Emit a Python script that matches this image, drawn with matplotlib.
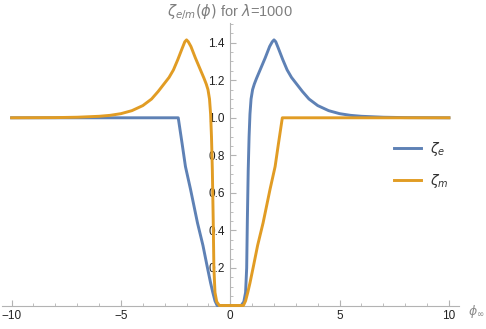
import matplotlib
matplotlib.use("Agg")
import matplotlib.pyplot as plt
from matplotlib.ticker import MultipleLocator, FixedLocator

# values
phi_e = [-10, -2.38, -2.2, -2.05, -1.82, -1.5, -1.25, -1.06, -0.9, -0.8, -0.7, -0.6,
         0.5, 0.62, 0.7, 0.75, 0.78, 0.82, 0.86, 0.9, 0.95, 1.02, 1.1, 1.2, 1.4, 1.6,
         1.8, 1.92, 2.0, 2.08, 2.2, 2.4, 2.6, 2.8, 3.0, 3.3, 3.6, 4.0, 4.5, 5.0, 5.5,
         6.0, 7.0, 8.0, 10]
zeta_e = [1.0, 1.0, 0.86, 0.74, 0.62, 0.44, 0.32, 0.21, 0.12, 0.07, 0.025, 0.0,
          0.0, 0.02, 0.07, 0.2, 0.45, 0.72, 0.9, 1.02, 1.1, 1.15, 1.18, 1.21, 1.265, 1.32,
          1.38, 1.405, 1.415, 1.405, 1.37, 1.31, 1.255, 1.215, 1.185, 1.14, 1.1, 1.065,
          1.038, 1.022, 1.013, 1.008, 1.003, 1.001, 1.0]

phi_m = [-10, -8, -7, -6, -5.5, -5, -4.5, -4, -3.6, -3.3, -3.0, -2.8, -2.6, -2.4,
         -2.2, -2.08, -2.0, -1.92, -1.8, -1.6, -1.4, -1.2, -1.1, -1.02, -0.95, -0.9,
         -0.86, -0.82, -0.78, -0.75, -0.7, -0.62, -0.5, 0.6, 0.7, 0.8, 0.9, 1.06,
         1.25, 1.5, 1.82, 2.05, 2.2, 2.38, 10]
zeta_m = [1.0, 1.001, 1.003, 1.008, 1.013, 1.022, 1.038, 1.065, 1.1, 1.14, 1.185,
          1.215, 1.255, 1.31, 1.37, 1.405, 1.415, 1.405, 1.38, 1.32, 1.265, 1.21, 1.18,
          1.15, 1.1, 1.02, 0.9, 0.72, 0.45, 0.2, 0.07, 0.02, 0.0, 0.0, 0.025, 0.07,
          0.12, 0.21, 0.32, 0.44, 0.62, 0.74, 0.86, 1.0, 1.0]

x_major = [-10, -5, 0, 5, 10]
y_major = [0.2, 0.4, 0.6, 0.8, 1.0, 1.2, 1.4]
y_labels = ["0.2", "0.4", "0.6", "0.8", "1.0", "1.2", "1.4"]

blue = "#5E81B5"
orange = "#E19C24"
axcol = "#b3b3b3"

plt.rcParams["font.family"] = ["Liberation Sans", "DejaVu Sans"]

fig = plt.figure(figsize=(4.86, 3.29), dpi=100)
ax = fig.add_axes([2/486, 1 - 305.5/329, 457/486, (305.5 - 23)/329])

ax.plot(phi_e, zeta_e, color=blue, lw=2.1, clip_on=False, label=r"$\zeta_e$", zorder=3)
ax.plot(phi_m, zeta_m, color=orange, lw=2.1, clip_on=False, label=r"$\zeta_m$", zorder=3)

ax.set_xlim(-10.44, 10.46)
ax.set_ylim(0, 1.505)

for s in ["top", "right"]:
    ax.spines[s].set_visible(False)
ax.spines["left"].set_position(("data", 0))
ax.spines["left"].set_color(axcol)
ax.spines["bottom"].set_color(axcol)

ax.xaxis.set_major_locator(FixedLocator(x_major))
ax.xaxis.set_minor_locator(MultipleLocator(1))
ax.yaxis.set_major_locator(FixedLocator(y_major))
ax.yaxis.set_minor_locator(MultipleLocator(0.05))
ax.set_yticklabels(y_labels)
ax.tick_params(which="both", direction="in", color=axcol, labelcolor="#222222",
               labelsize=8.5)
ax.tick_params(which="major", length=4.5, width=0.8, pad=3)
ax.tick_params(which="minor", length=2.5, width=0.6)
ax.tick_params(axis="y", which="major", pad=4)

fig.text(230/486, 1 - 12/329, r"$\zeta_{e/m}(\phi)$ for $\lambda$=1000",
         ha="center", va="center", color="#7f7f7f", fontsize=10.5)
fig.text(468/486, 1 - 311/329, r"$\phi_\infty$", ha="left", va="center",
         color="#8a8a8a", fontsize=9)

leg = ax.legend(loc="center left", bbox_to_anchor=(381/486, 1 - 165/329),
                bbox_transform=fig.transFigure, frameon=False, fontsize=10,
                handlelength=2.0, labelspacing=1.0, handletextpad=0.6)
for t in leg.get_texts():
    t.set_color("#333333")

fig.savefig("out.png", dpi=100)
